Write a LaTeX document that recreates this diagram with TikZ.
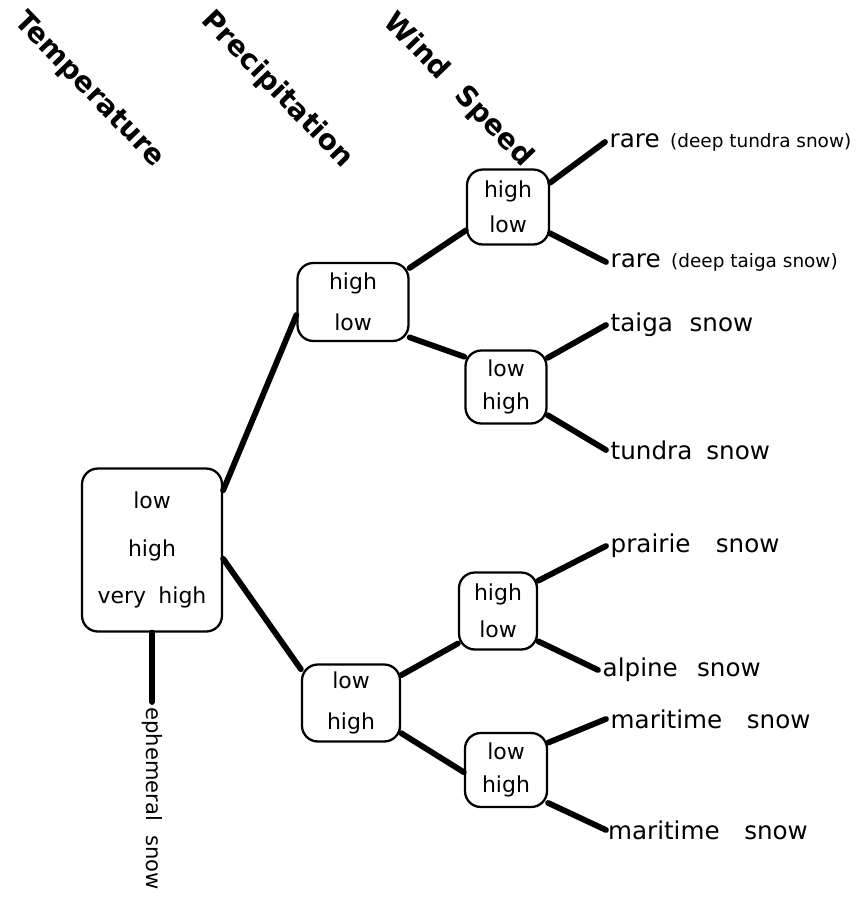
\documentclass[tikz,border=0pt]{standalone}
\usepackage{fontspec}
\setmainfont{DejaVu Sans}
\usepackage{tikz}
\usetikzlibrary{positioning}

\newcommand{\noteset}{\fontsize{10.5}{12}\selectfont}

\begin{document}
\begin{tikzpicture}[
  x=0.02cm, y=-0.02cm,
  box/.style={draw, line width=1.3pt, rounded corners=9pt, align=center, inner sep=1pt,
    font=\fontsize{12.5}{#1}\selectfont},
  box/.default=22pt,
  leaf/.style={anchor=west, inner sep=2.5pt, font=\fontsize{14}{16}\selectfont},
  head/.style={rotate=-46, font=\bfseries\fontsize{16}{18}\selectfont},
  link/.style={line width=3.3pt, line cap=round}
]
\useasboundingbox (0,0) rectangle (865,897);

% column headings
\node [head] (htemp) at (89,90) {Temperature};
\node [head] (hprec) at (277,90) {Precipitation};
\node [head] (hwind) at (458,90) {Wind\hspace{12pt}Speed};

% temperature
\node [box=27pt, minimum width=2.8cm, minimum height=3.26cm] (temp) at (152,550) {low\\high\\very\hspace{7pt}high};
\node [leaf, rotate=-90, inner sep=3pt, font=\fontsize{12}{14}\selectfont] (eph) at (152,702) {ephemeral\hspace{8pt}snow};

% precipitation
\node [box=23.5pt, minimum width=2.22cm, minimum height=1.56cm] (pu) at (353,302) {high\\low};
\node [box=23pt, minimum width=1.96cm, minimum height=1.54cm] (pl) at (351,703) {low\\high};

% wind speed
\node [box=20pt, minimum width=1.64cm, minimum height=1.5cm] (w1) at (508,207) {high\\low};
\node [box=19pt, minimum width=1.62cm, minimum height=1.46cm] (w2) at (506,387) {low\\high};
\node [box=21pt, minimum width=1.56cm, minimum height=1.54cm] (w3) at (498,611) {high\\low};
\node [box=18.5pt, minimum width=1.64cm, minimum height=1.48cm] (w4) at (506,770) {low\\high};

% snow types
\node [leaf] (l1) at (605,142) {rare\hspace{6pt}{\noteset(deep tundra snow)}};
\node [leaf] (l2) at (606,262) {rare\hspace{6pt}{\noteset(deep taiga snow)}};
\node [leaf] (l3) at (606,325) {taiga\hspace{9.5pt}snow};
\node [leaf] (l4) at (606,450) {tundra\hspace{8pt}snow};
\node [leaf] (l5) at (606,546) {prairie\hspace{14.5pt}snow};
\node [leaf] (l6) at (598,670) {alpine\hspace{11pt}snow};
\node [leaf] (l7) at (606,719) {maritime\hspace{14pt}snow};
\node [leaf, inner xsep=1pt] (l8) at (606,830) {maritime\hspace{14pt}snow};

% branches
\draw [link] (temp.40) -- (pu.193);
\draw [link] (temp.-7) -- (pl.146);
\draw [link] (temp.south) -- (eph.west);
\draw [link] (pu.31) -- (w1.209);
\draw [link] (pu.-32) -- (w2.144);
\draw [link] (pl.29) -- (w3.219);
\draw [link] (pl.-31) -- (w4.183);
\draw [link] (w1.30) -- (l1.west);
\draw [link] (w1.-32) -- (l2.west);
\draw [link] (w2.35) -- (l3.west);
\draw [link] (w2.-34) -- (l4.west);
\draw [link] (w3.37) -- (l5.west);
\draw [link] (w3.-37) -- (l6.west);
\draw [link] (w4.33) -- (l7.west);
\draw [link] (w4.-38) -- (l8.west);
\end{tikzpicture}
\end{document}
